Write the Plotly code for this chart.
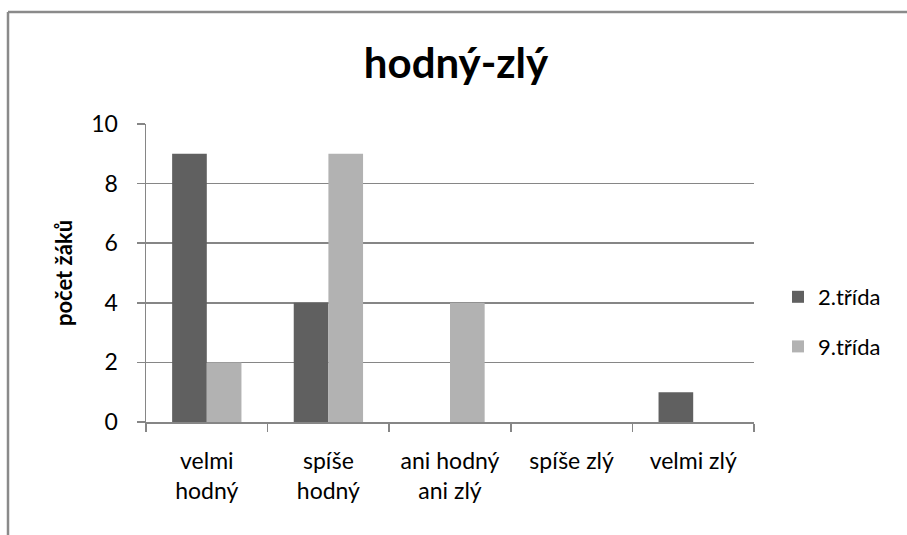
import plotly.graph_objects as go

categories = ["velmi<br>hodný", "spíše<br>hodný", "ani hodný<br>ani zlý", "spíše zlý", "velmi zlý"]
series_names = ["2.třída", "9.třída"]
values_2 = [9, 4, 0, 0, 1]
values_9 = [2, 9, 4, 0, 0]
y_ticks = [0, 2, 4, 6, 8, 10]

FONT = "Lato, 'Open Sans', sans-serif"
W, H = 907, 535
L, R, T, B = 146, 153, 124, 113
pw, ph = W - L - R, H - T - B

def px(x):
    return (x - L) / pw

def py(y):
    return (H - B - y) / ph

fig = go.Figure()
fig.add_trace(go.Bar(x=categories, y=values_2, name=series_names[0],
                     marker=dict(color="#606060", line=dict(width=0)), legendgroup="a"))
fig.add_trace(go.Bar(x=categories, y=values_9, name=series_names[1],
                     marker=dict(color="#b2b2b2", line=dict(width=0)), legendgroup="b"))

fig.update_layout(
    width=W, height=H,
    margin=dict(l=L, r=R, t=T, b=B, pad=0),
    paper_bgcolor="white", plot_bgcolor="white",
    barmode="group", bargap=0.43, bargroupgap=0,
    font=dict(family=FONT, size=23, color="black"),
    title=dict(text="<b>hodný-zlý</b>", x=456 / W, xanchor="center", xref="container",
               y=1 - 63 / H, yanchor="middle", yref="container",
               font=dict(size=42, family=FONT)),
    showlegend=True,
    legend=dict(x=px(778), xanchor="left", y=py(276), yanchor="top",
                font=dict(size=22), tracegroupgap=18, itemwidth=30,
                bgcolor="rgba(0,0,0,0)"),
    xaxis=dict(showgrid=False, showline=True, linecolor="#868686", linewidth=1.5,
               ticks="outside", ticklen=8, tickcolor="#868686", tickwidth=1.5,
               tickson="boundaries", tickfont=dict(size=23), ticklabelstandoff=18,
               range=[-0.5, 4.5], fixedrange=True),
    yaxis=dict(range=[0, 10], tickvals=y_ticks, showgrid=True, gridcolor="#868686",
               gridwidth=1.5, showline=True, linecolor="#868686", linewidth=1.5,
               ticks="outside", ticklen=8, tickcolor="#868686", tickwidth=1.5,
               tickfont=dict(size=23), ticklabelstandoff=14, zeroline=False,
               fixedrange=True,
               title=dict(text="<b>počet žáků</b>", font=dict(size=22), standoff=12)),
    shapes=[
        dict(type="line", xref="paper", yref="paper", x0=px(8), x1=px(8), y0=py(12), y1=py(540),
             line=dict(color="#8a8a8a", width=2.5)),
        dict(type="line", xref="paper", yref="paper", x0=px(8), x1=px(912), y0=py(12), y1=py(12),
             line=dict(color="#8a8a8a", width=2.5)),
    ],
)

fig.write_html("out.html", config={"displayModeBar": False, "staticPlot": True},
               post_script="document.body.style.margin='0';document.body.style.overflow='hidden';")
